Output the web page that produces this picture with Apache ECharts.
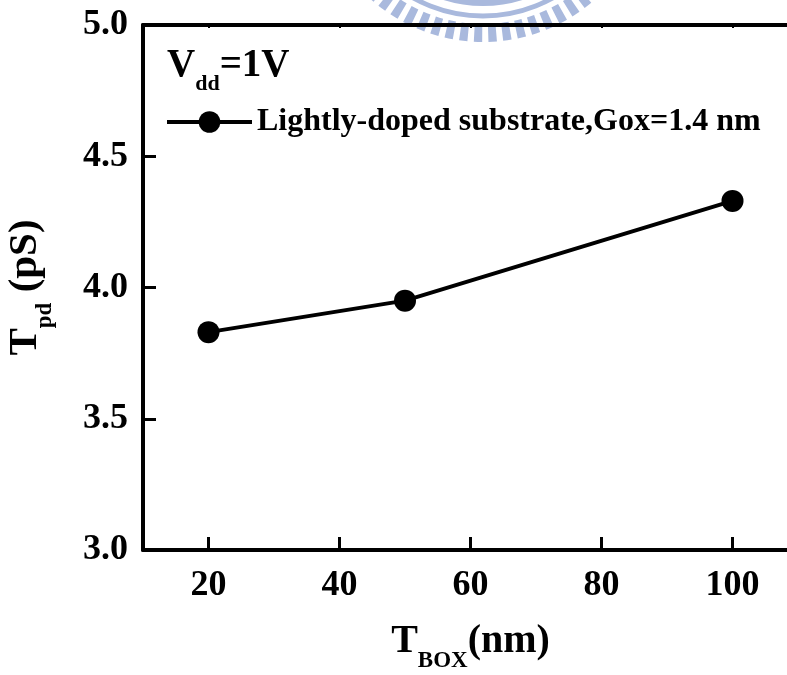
<!DOCTYPE html>
<html>
<head>
<meta charset="utf-8">
<script src="https://cdn.jsdelivr.net/npm/echarts@6/dist/echarts.min.js"></script>
<style>
  html, body { margin: 0; padding: 0; background: #fff; }
  #chart { width: 787px; height: 675px; }
</style>
</head>
<body>
<div id="chart"></div>
<script>
// Buried-oxide thickness (nm) and propagation delay (ps)
const tBox = [20, 50, 100];
const tpd = [3.83, 3.95, 4.33];
const xTicks = [20, 40, 60, 80, 100];
const yTicks = [3.0, 3.5, 4.0, 4.5, 5.0];
const seriesName = 'Lightly-doped substrate,Gox=1.4 nm';

const FONT = "'Liberation Serif', 'Times New Roman', serif";

const chart = echarts.init(document.getElementById('chart'), null, { renderer: 'canvas' });

// Faint logo ring peeking in at the top edge
const ringCx = 483, ringCy = -127;

chart.setOption({
  backgroundColor: '#ffffff',
  animation: false,
  grid: { left: 143, top: 25, right: -11, bottom: 125, containLabel: false, outerBoundsMode: 'none' },
  legend: {
    left: 165, top: 106, padding: 0,
    itemWidth: 85, itemHeight: 27,
    itemGap: 0,
    lineStyle: { width: 4, color: '#000' },
    textStyle: { fontFamily: FONT, fontWeight: 'bold', fontSize: 32, color: '#000' },
    data: [seriesName]
  },
  graphic: [
    {
      type: 'arc', z: -1, silent: true,
      shape: { cx: ringCx, cy: ringCy, r: 160, startAngle: 0, endAngle: Math.PI },
      style: { stroke: '#a9b9dd', lineWidth: 18, fill: null, lineDash: [8, 6] }
    },
    {
      type: 'arc', z: -1, silent: true,
      shape: { cx: ringCx, cy: ringCy, r: 143, startAngle: 0, endAngle: Math.PI },
      style: { stroke: '#a9b9dd', lineWidth: 5, fill: null }
    },
    {
      type: 'arc', z: -1, silent: true,
      shape: { cx: ringCx, cy: ringCy, r: 128, startAngle: 0, endAngle: Math.PI },
      style: { stroke: '#a9b9dd', lineWidth: 10, fill: null }
    },
    {
      type: 'text', left: 167, top: 46,
      style: {
        text: '{v|V}{s|dd}{v|=1V}',
        fill: '#000',
        rich: {
          v: { fontFamily: FONT, fontWeight: 'bold', fontSize: 39, verticalAlign: 'bottom', padding: [0, 0, 10, 0] },
          s: { fontFamily: FONT, fontWeight: 'bold', fontSize: 22, verticalAlign: 'bottom' }
        }
      }
    }
  ],
  xAxis: [
    {
      type: 'value', min: 10, max: 110, interval: 20,
      name: '{t|T}{s|BOX}{t|(nm)}',
      nameLocation: 'middle', nameGap: 72,
      nameTextStyle: {
        rich: {
          t: { fontFamily: FONT, fontWeight: 'bold', fontSize: 40, color: '#000', verticalAlign: 'bottom', padding: [0, 0, 11, 0] },
          s: { fontFamily: FONT, fontWeight: 'bold', fontSize: 23, color: '#000', verticalAlign: 'bottom' }
        }
      },
      axisLine: { onZero: false, lineStyle: { color: '#000', width: 4 } },
      axisTick: { inside: true, length: 13, lineStyle: { color: '#000', width: 3 }, customValues: xTicks },
      axisLabel: {
        margin: 18, color: '#000', fontFamily: FONT, fontWeight: 'bold', fontSize: 36,
        customValues: xTicks
      },
      splitLine: { show: false }
    },
    {
      type: 'value', position: 'top', min: 10, max: 110, interval: 20,
      axisLine: { onZero: false, lineStyle: { color: '#000', width: 4 } },
      axisTick: { inside: true, length: 3, lineStyle: { color: '#000', width: 2 }, customValues: xTicks },
      axisLabel: { show: false },
      splitLine: { show: false }
    }
  ],
  yAxis: {
    type: 'value', min: 3.0, max: 5.0, interval: 0.5,
    name: '{t|T}{s|pd}{t| (pS)}',
    nameLocation: 'middle', nameGap: 86,
    nameTextStyle: {
      rich: {
        t: { fontFamily: FONT, fontWeight: 'bold', fontSize: 41, color: '#000', verticalAlign: 'bottom', padding: [0, 0, 11, 0] },
        s: { fontFamily: FONT, fontWeight: 'bold', fontSize: 23, color: '#000', verticalAlign: 'bottom' }
      }
    },
    axisLine: { show: true, onZero: false, lineStyle: { color: '#000', width: 4 } },
    axisTick: { inside: true, length: 13, lineStyle: { color: '#000', width: 3 } },
    axisLabel: {
      margin: 15, color: '#000', fontFamily: FONT, fontWeight: 'bold', fontSize: 36,
      customValues: yTicks,
      formatter: v => v.toFixed(1)
    },
    splitLine: { show: false }
  },
  series: [
    {
      name: seriesName,
      type: 'line',
      data: tBox.map((x, i) => [x, tpd[i]]),
      symbol: 'circle', symbolSize: 22,
      lineStyle: { color: '#000', width: 4 },
      itemStyle: { color: '#000' },
      clip: false
    }
  ]
});
</script>
</body>
</html>
